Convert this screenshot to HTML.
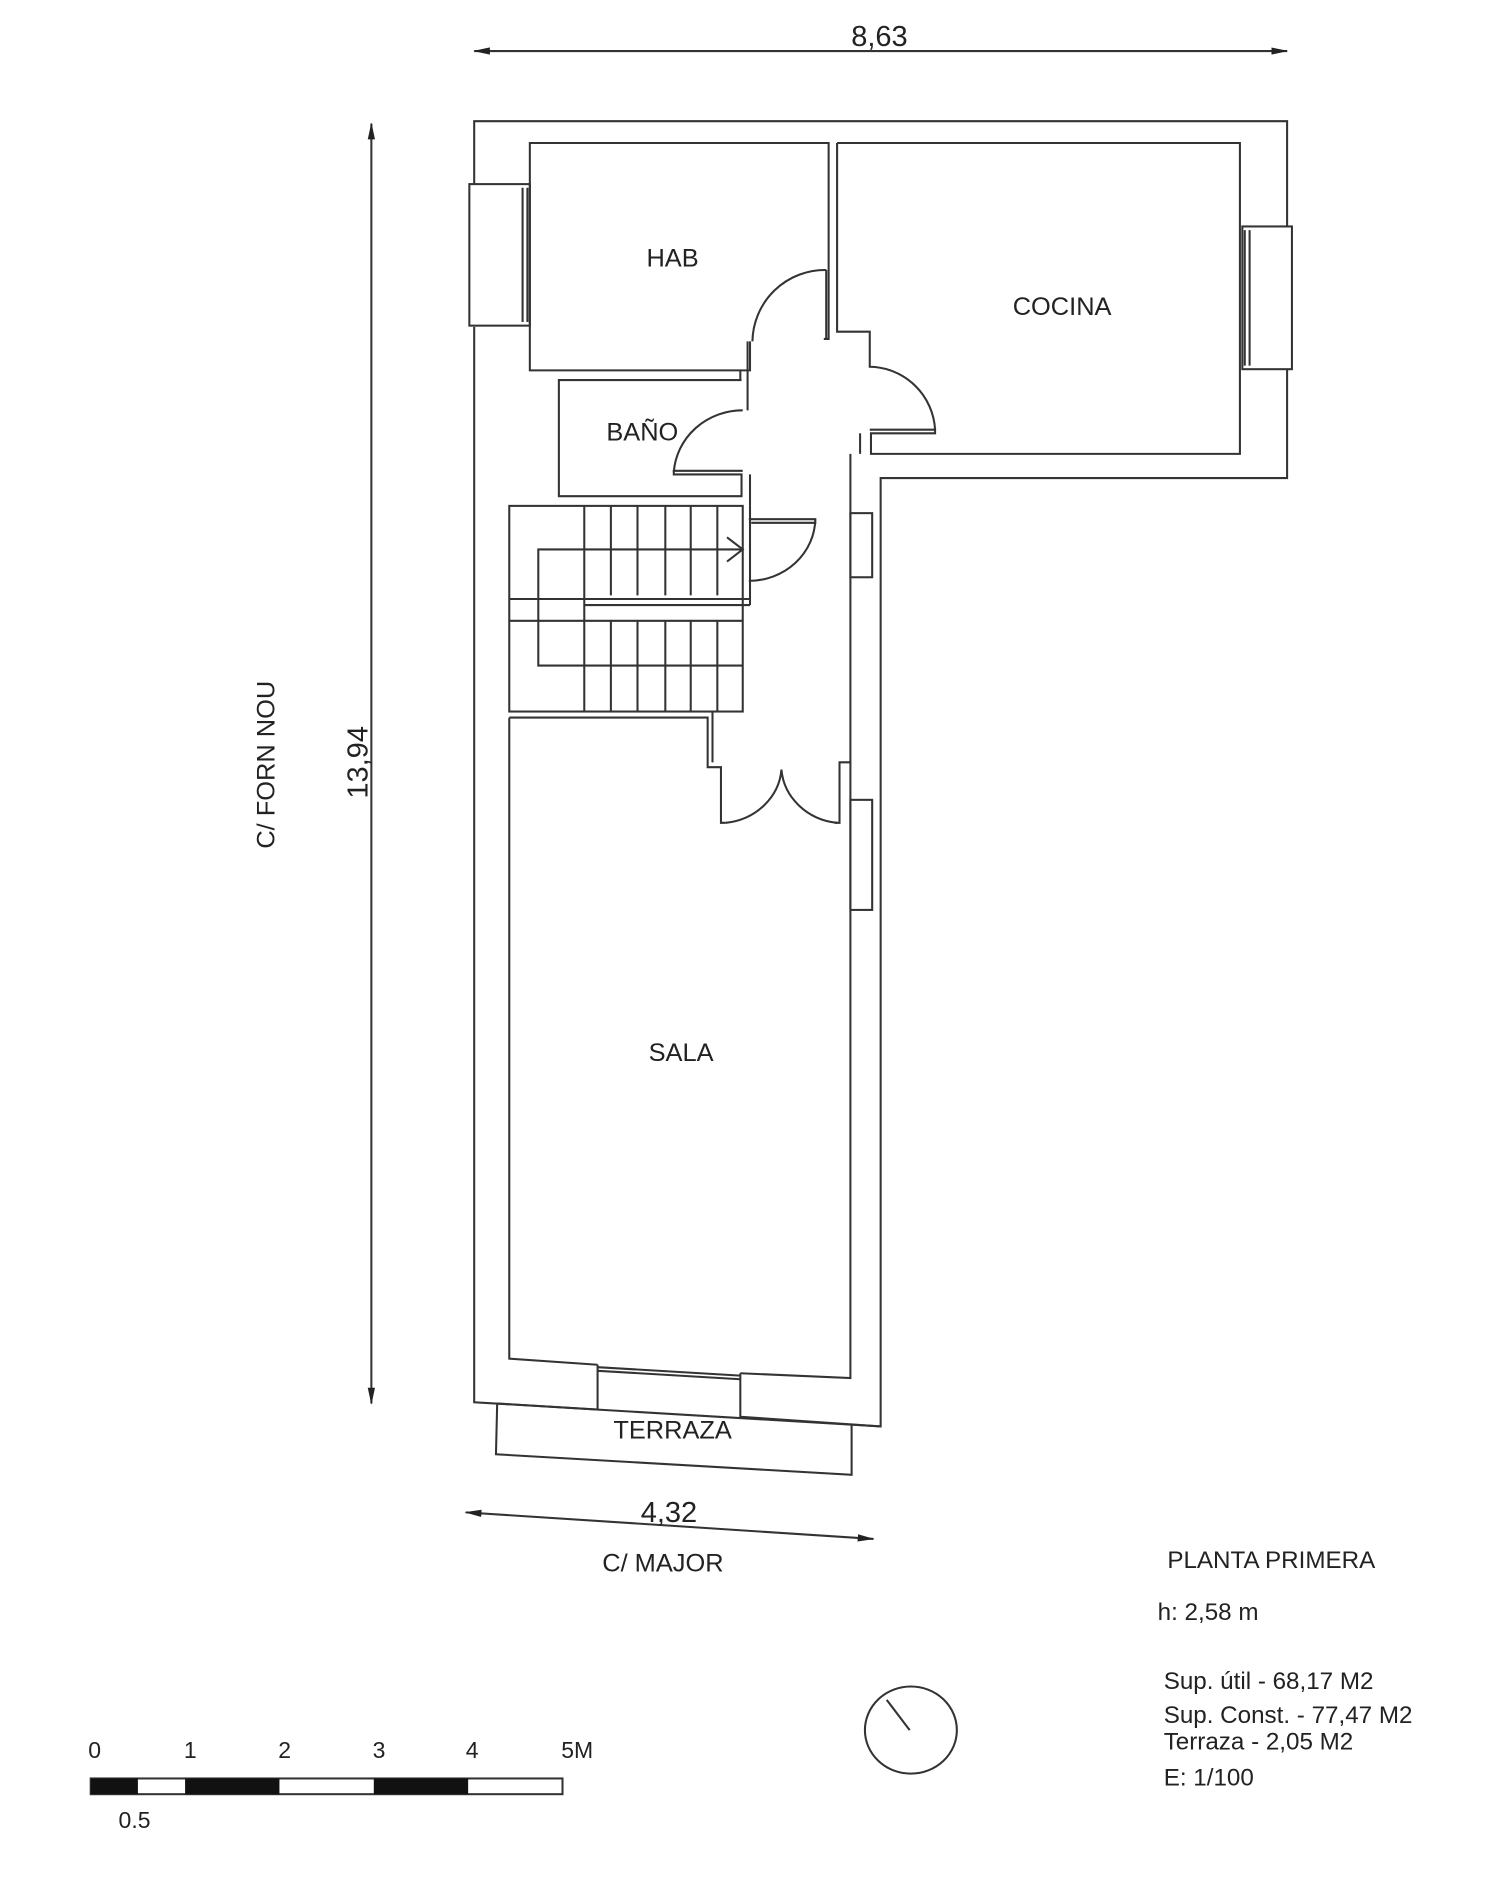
<!DOCTYPE html>
<html><head><meta charset="utf-8"><style>
html,body{margin:0;padding:0;background:#fff;}
svg{display:block}
text{font-family:"Liberation Sans",Arial,sans-serif;fill:#222}
</style></head><body>
<svg width="1500" height="1890" viewBox="0 0 1240 1562" xmlns="http://www.w3.org/2000/svg">
<defs>
<marker id="ar" markerWidth="14" markerHeight="8" refX="13" refY="4" orient="auto" markerUnits="userSpaceOnUse"><path d="M0,1 L14,4 L0,7 z" fill="#222"/></marker>
<marker id="al" markerWidth="14" markerHeight="8" refX="1" refY="4" orient="auto" markerUnits="userSpaceOnUse"><path d="M14,1 L0,4 L14,7 z" fill="#222"/></marker>
</defs>
<g fill="none" stroke="#333" stroke-width="1.7">
<line x1="392" y1="42" x2="1064" y2="42" marker-start="url(#al)" marker-end="url(#ar)"/>
<line x1="307" y1="102" x2="307" y2="1160" marker-start="url(#al)" marker-end="url(#ar)"/>
<line x1="385" y1="1250" x2="722" y2="1272" marker-start="url(#al)" marker-end="url(#ar)"/>
<path d="M392,152 L392,100 L1064,100 L1064,187 M1064,305 L1064,395 L728,395 L728,1179 L392,1159 L392,270"/>
<rect x="388" y="152" width="50" height="117"/>
<line x1="432" y1="155" x2="432" y2="266"/><line x1="436" y1="155" x2="436" y2="266"/>
<rect x="1027" y="187" width="41" height="118"/>
<line x1="1029" y1="190" x2="1029" y2="302"/><line x1="1033" y1="190" x2="1033" y2="302"/>
<rect x="703" y="424" width="18" height="53"/>
<rect x="703" y="661" width="18" height="91"/>
<path d="M620,282 L620,306 L438,306 L438,118 L685,118 L685,280 L681,280"/>
<path d="M683,223 L683,280 M683,223 A60,60 0 0 0 622,282"/>
<path d="M692,118 L1025,118 L1025,375 L720,375 L720,358 L773,358 L773,355 L719,355"/>
<path d="M692,118 L692,274 L719,274 L719,303 A55,55 0 0 1 773,355"/>
<path d="M613,314 L462,314 L462,410 L613,410 L613,392 L557,392 L557,389 L614,389"/>
<path d="M614,339 A57,55 0 0 0 557,390"/>
<path d="M612,306 L612,314 M618,282 L618,339 M620,392 L620,418"/>
<path d="M703,375 L703,630 L694,630 L694,680 L690,680"/>
<path d="M711,358 L711,375"/>
<rect x="421" y="418" width="193" height="170"/>
<line x1="483" y1="418" x2="483" y2="588"/>
<g>
<line x1="505" y1="418" x2="505" y2="492"/><line x1="527" y1="418" x2="527" y2="492"/><line x1="550" y1="418" x2="550" y2="492"/><line x1="571" y1="418" x2="571" y2="492"/><line x1="593" y1="418" x2="593" y2="492"/>
<line x1="505" y1="513" x2="505" y2="588"/><line x1="527" y1="513" x2="527" y2="588"/><line x1="550" y1="513" x2="550" y2="588"/><line x1="571" y1="513" x2="571" y2="588"/><line x1="593" y1="513" x2="593" y2="588"/>
</g>
<line x1="421" y1="495" x2="620" y2="495"/><line x1="483" y1="500" x2="620" y2="500"/>
<line x1="421" y1="513" x2="614" y2="513"/>
<path d="M614,454 L445,454 L445,550 L614,550"/>
<path d="M601,444 L614,454 L601,464"/>
<path d="M620,418 L620,500"/>
<path d="M619,429 L674,429 L674,432 L621,432 M674,429 A55,52 0 0 1 619,480"/>
<path d="M421,593 L585,593 L585,634 L596,634 L596,680 L600,680 M421,588 L589,588 L589,630 M421,593 L421,1123 L494,1128 M612,1135 L703,1139 L703,630"/>
<path d="M600,680 A52,48 0 0 0 646,636 M692,680 A52,48 0 0 1 646,636"/>
<path d="M494,1128 L494,1165 L411,1160 M494,1130 L612,1137 M494,1133 L612,1140 M612,1135 L612,1171 L728,1179"/>
<path d="M411,1160 L410,1202 L704,1219 L704,1178"/>
<ellipse cx="753" cy="1430" rx="38" ry="36"/>
<line x1="733" y1="1405" x2="752" y2="1430"/>
<rect x="75" y="1470" width="390" height="13"/>
</g>
<g fill="#111">
<rect x="75" y="1470" width="39" height="13"/><rect x="153" y="1470" width="78" height="13"/><rect x="309" y="1470" width="78" height="13"/>
</g>
<g font-size="24" text-anchor="middle">
<text x="727" y="38">8,63</text>
<text x="553" y="1258">4,32</text>
<text transform="translate(304,630) rotate(-90)">13,94</text>
</g>
<g font-size="21" text-anchor="middle">
<text x="556" y="220">HAB</text>
<text x="878" y="260">COCINA</text>
<text x="531" y="364">BAÑO</text>
<text x="563" y="877">SALA</text>
<text x="556" y="1189">TERRAZA</text>
<text x="548" y="1299">C/ MAJOR</text>
<text transform="translate(227,632) rotate(-90)">C/ FORN NOU</text>
</g>
<g font-size="20">
<text x="965" y="1296">PLANTA PRIMERA</text>
<text x="957" y="1339">h: 2,58 m</text>
<text x="962" y="1396">Sup. útil - 68,17 M2</text>
<text x="962" y="1424">Sup. Const. - 77,47 M2</text>
<text x="962" y="1446">Terraza - 2,05 M2</text>
<text x="962" y="1476">E: 1/100</text>
</g>
<g font-size="19">
<text x="73" y="1453">0</text><text x="152" y="1453">1</text><text x="230" y="1453">2</text><text x="308" y="1453">3</text><text x="385" y="1453">4</text><text x="464" y="1453">5M</text>
<text x="98" y="1511">0.5</text>
</g>
</svg>
</body></html>
